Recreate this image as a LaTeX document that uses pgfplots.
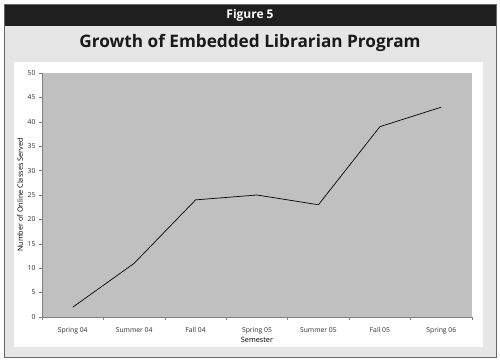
\documentclass[border=0pt]{standalone}
\usepackage{pgfplots}
\pgfplotsset{compat=1.18}
\usepackage{fontspec}
\setmainfont{Open Sans}
\definecolor{panelgray}{HTML}{E6E6E6}
\definecolor{plotgray}{HTML}{C0C0C0}
\definecolor{axisgray}{HTML}{808080}
\definecolor{textgray}{HTML}{303030}
\begin{document}
\begin{tikzpicture}[x=1pt,y=1pt]
\useasboundingbox (0,0) rectangle (500,361);
\fill[white] (0,0) rectangle (500,361);
\fill[panelgray] (4,4) rectangle (496,357);
\fill[black!88] (4,335) rectangle (496,357);
\draw[black!60, line width=0.6pt] (4,4) rectangle (496,357);
\node[text=white, font=\bfseries\fontsize{12}{14}\selectfont] at (250,346) {Figure 5};
\node[text=black!90, font=\bfseries\fontsize{17.2}{20}\selectfont] at (250,318) {Growth of Embedded Librarian Program};
\fill[white] (14,14) rectangle (483,299);
\begin{axis}[
  at={(42pt,44pt)}, anchor=south west,
  scale only axis, width=430pt, height=244pt,
  xmin=-0.5, xmax=6.5, ymin=0, ymax=50,
  xtick={0,...,6},
  xticklabels={Spring 04,Summer 04,Fall 04,Spring 05,Summer 05,Fall 05,Spring 06},
  minor xtick={-0.5,0.5,...,6.5},
  ytick={0,5,...,50},
  major x tick style={draw=none},
  tick align=outside,
  tick style={axisgray, line width=0.5pt},
  major tick length=3pt, minor tick length=3pt,
  axis x line*=bottom, axis y line*=left,
  axis line style={axisgray, line width=0.8pt, -},
  axis background/.style={fill=plotgray},
  ticklabel style={font=\fontsize{6.8}{8}\selectfont, text=textgray},
  /pgf/number format/assume math mode=true,
  xticklabel style={yshift=-4pt},
  xlabel={Semester}, ylabel={Number of Online Classes Served},
  label style={font=\fontsize{7.3}{8}\selectfont, text=black},
  xlabel style={yshift=4pt},
  ylabel style={yshift=-2pt},
  clip=false,
]
\addplot[black, line width=0.7pt] coordinates {
  (0,2) (1,11) (2,24) (3,25) (4,23) (5,39) (6,43)
};
\end{axis}
\end{tikzpicture}
\end{document}
